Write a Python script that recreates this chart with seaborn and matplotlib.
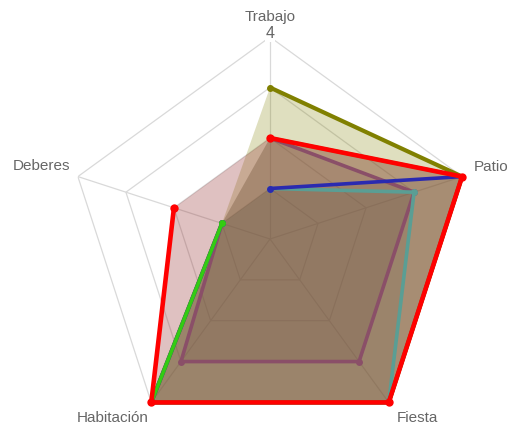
import numpy as np
import matplotlib
matplotlib.use("Agg")
import matplotlib.pyplot as plt
import seaborn as sns

categories = ["Trabajo", "Patio", "Fiesta", "Habitación", "Deberes"]
olive_vals = [3, 4, 4, 4, 1]
mauve_vals = [2, 3, 3, 3, 1]
teal_vals = [1, 3, 4, 4, 1]
blue_vals = [1, 4, 4, 4, 1]
green_vals = [2, 4, 4, 4, 1]
red_vals = [2, 4, 4, 4, 2]
scale_max = 4
tick_label = "4"

series = [
    (olive_vals, "#808000", "#808000", 0.25, 3.0, 5.0),
    (mauve_vals, "#8a4f68", "#6e505a", 0.20, 2.6, 5.0),
    (teal_vals, "#5a9e94", "#507864", 0.18, 2.6, 5.0),
    (blue_vals, "#2a2ab0", "#465050", 0.15, 2.6, 5.0),
    (green_vals, "#33cc11", "#5a6e28", 0.22, 2.6, 5.0),
    (red_vals, "#ff0000", "#963232", 0.30, 3.3, 6.0),
]

sns.set_theme(style="white")
plt.rcParams["font.family"] = ["Liberation Sans", "DejaVu Sans"]

fig = plt.figure(figsize=(5.09, 4.25), dpi=100)
cx, cy, R = 270, 239, 202
W, H = 509, 425
ax = fig.add_axes([(cx - R) / W, (H - cy - R) / H, 2 * R / W, 2 * R / H], projection="polar")
ax.set_theta_offset(np.pi / 2)
ax.set_theta_direction(-1)
ax.set_ylim(0, scale_max)
ax.grid(False)
ax.spines["polar"].set_visible(False)
ax.set_xticks([])
ax.set_yticks([])
ax.patch.set_alpha(0)

n = len(categories)
theta = np.arange(n) * 2 * np.pi / n
theta_c = np.append(theta, theta[0])

grid_col = "#d9d9d9"
for lvl in range(1, scale_max + 1):
    ax.plot(theta_c, [lvl] * (n + 1), color=grid_col, lw=0.9, zorder=1)
for t in theta:
    ax.plot([t, t], [0, scale_max], color=grid_col, lw=0.9, zorder=1)

for i, (vals, lc, fc, a, lw, ms) in enumerate(series):
    v = np.append(vals, vals[0])
    ax.fill(theta_c, v, color=fc, alpha=a, zorder=2 + i, lw=0)
    sns.lineplot(x=theta_c, y=v, sort=False, ax=ax, color=lc, lw=lw,
                 marker="o", markersize=ms, markeredgewidth=0,
                 zorder=10 + i, clip_on=False, legend=False)

txt_col = "#666666"
offsets = {
    "Trabajo": ((0, 20), "center"),
    "Patio": ((12, 10), "left"),
    "Fiesta": ((8, -16), "left"),
    "Habitación": ((-3, -16), "right"),
    "Deberes": ((-8, 11), "right"),
}
for t, lab in zip(theta, categories):
    (dx, dy), ha = offsets[lab]
    ax.annotate(lab, xy=(t, scale_max), xytext=(dx, dy), textcoords="offset pixels",
                ha=ha, va="center", fontsize=11, color=txt_col, annotation_clip=False)
ax.annotate(tick_label, xy=(0, scale_max), xytext=(0, 3), textcoords="offset pixels",
            ha="center", va="center", fontsize=11.5, color=txt_col, zorder=30,
            bbox=dict(boxstyle="square,pad=0.05", fc="white", ec="none"),
            annotation_clip=False)

fig.savefig("out.png", dpi=100)
